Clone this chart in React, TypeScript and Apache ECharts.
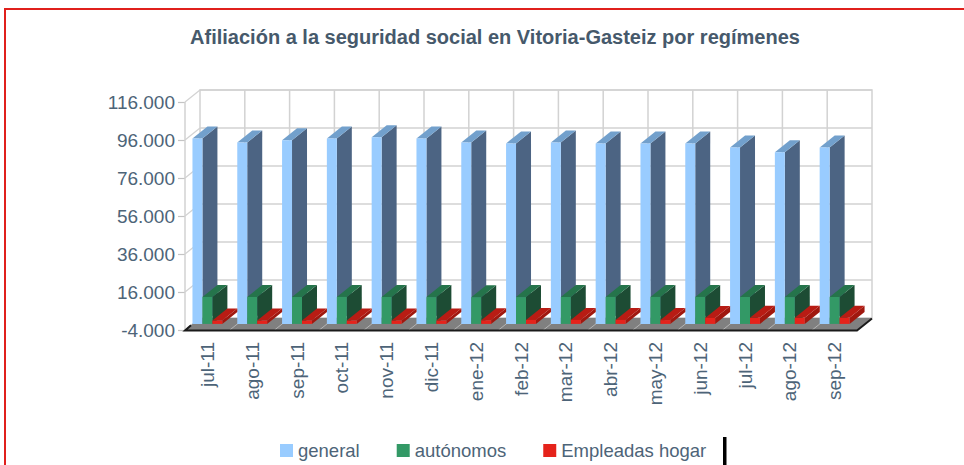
import React, { useEffect, useRef } from 'react';
import * as echarts from 'echarts';

const categories = ['jul-11', 'ago-11', 'sep-11', 'oct-11', 'nov-11', 'dic-11', 'ene-12', 'feb-12', 'mar-12', 'abr-12', 'may-12', 'jun-12', 'jul-12', 'ago-12', 'sep-12'];
const generalValues = [97600, 95500, 96600, 97600, 98200, 97600, 95500, 95000, 95500, 95000, 95000, 95000, 92900, 90300, 92900];
const autonomosValues = [14200, 14150, 14150, 14200, 14150, 14100, 14050, 14100, 14150, 14200, 14200, 14200, 14150, 14100, 14150];
const hogarValues = [1750, 1750, 1750, 1750, 1750, 1750, 1900, 2100, 2100, 2100, 2000, 3150, 3200, 3200, 3250];
const seriesNames = ['general', 'autónomos', 'Empleadas hogar'];
const yTicks = [-4000, 16000, 36000, 56000, 76000, 96000, 116000];
const titleText = 'Afiliación a la seguridad social en Vitoria-Gasteiz por regímenes';

const FACES = [
  { front: '#99ccff', side: '#4c6483', top: '#72a0cc' },
  { front: '#339966', side: '#1d4c34', top: '#25744b' },
  { front: '#e5231b', side: '#a0180f', top: '#b81c14' },
];
const DX = 15;
const DY = -12;
const BAR_SHIFT = 1.5;
const TEXT = '#4d6478';
const FONT = '"Liberation Sans", Arial, sans-serif';

const fmt = (v: number) => {
  const s = Math.abs(v).toString().replace(/\B(?=(\d{3})+(?!\d))/g, '.');
  return (v < 0 ? '-' : '') + s;
};

const makeBarRender = (si: number) => (params: any, api: any) => {
  const idx = api.value(0);
  const v = api.value(1);
  const catW = api.size([1, 0])[0];
  const w = catW / 4.5;
  const base = api.coord([idx, 0]);
  const top = api.coord([idx, v]);
  const x0 = base[0] - catW / 2 + 0.75 * w + si * w;
  const yb = base[1] + BAR_SHIFT;
  const yt = top[1] + BAR_SHIFT;
  const f = FACES[si];
  return {
    type: 'group',
    children: [
      { type: 'polygon', shape: { points: [[x0 + w, yt], [x0 + w + DX, yt + DY], [x0 + w + DX, yb + DY], [x0 + w, yb]] }, style: { fill: f.side } },
      { type: 'polygon', shape: { points: [[x0, yt], [x0 + w, yt], [x0 + w + DX, yt + DY], [x0 + DX, yt + DY]] }, style: { fill: f.top } },
      { type: 'rect', shape: { x: x0, y: yt, width: w, height: yb - yt }, style: { fill: f.front } },
    ],
  };
};

const renderFrame = (params: any, api: any) => {
  const cs = params.coordSys;
  const xL = cs.x;
  const xR = cs.x + cs.width;
  const n = categories.length;
  const catW = cs.width / n;
  const yOf = (v: number) => api.coord([0, v])[1];
  const yTop = yOf(yTicks[yTicks.length - 1]);
  const yBot = yOf(yTicks[0]);
  const grid = '#d2d2d2';
  const children: any[] = [];
  children.push({ type: 'rect', shape: { x: xL + DX, y: yTop + DY, width: cs.width, height: yBot - yTop }, style: { fill: '#ffffff', stroke: grid, lineWidth: 1.5 } });
  for (let k = 1; k < n; k++) {
    const x = xL + DX + k * catW;
    children.push({ type: 'line', shape: { x1: x, y1: yTop + DY, x2: x, y2: yBot + DY }, style: { stroke: grid, lineWidth: 1.5 } });
  }
  yTicks.forEach((t) => {
    const y = yOf(t);
    children.push({ type: 'line', shape: { x1: xL + DX, y1: y + DY, x2: xR + DX, y2: y + DY }, style: { stroke: grid, lineWidth: 1.5 } });
    children.push({ type: 'line', shape: { x1: xL, y1: y, x2: xL + DX, y2: y + DY }, style: { stroke: grid, lineWidth: 1.2 } });
  });
  children.push({ type: 'line', shape: { x1: xL, y1: yTop, x2: xL, y2: yBot }, style: { stroke: grid, lineWidth: 1.5 } });
  // floor
  children.push({ type: 'polygon', shape: { points: [[xL, yBot], [xR, yBot], [xR + DX, yBot + DY], [xL + DX, yBot + DY]] }, style: { fill: '#808080' } });
  for (let k = 1; k < n; k++) {
    const x = xL + k * catW;
    children.push({ type: 'line', shape: { x1: x, y1: yBot, x2: x + DX, y2: yBot + DY }, style: { stroke: '#b4b4b4', lineWidth: 1 } });
  }
  children.push({ type: 'polyline', shape: { points: [[xL + DX * 0.4, yBot + DY * 0.4], [xL, yBot + 0.5], [xR, yBot + 0.5], [xR + DX, yBot + DY + 0.5]] }, style: { stroke: '#1a1a1a', lineWidth: 2, fill: null } });
  return { type: 'group', children };
};

export default function App() {
  const ref = useRef<HTMLDivElement>(null);
  useEffect(() => {
    if (!ref.current) return;
    const chart = echarts.init(ref.current, undefined, { renderer: 'svg' });
    const dataSets = [generalValues, autonomosValues, hogarValues];
    const option: any = {
      animation: false,
      backgroundColor: '#ffffff',
      title: {
        text: titleText,
        left: 490,
        top: 22,
        textAlign: 'center',
        textStyle: { fontFamily: FONT, fontSize: 20, fontWeight: 'bold', color: '#46596b' },
      },
      legend: {
        data: seriesNames,
        left: 275,
        top: 436,
        icon: 'rect',
        itemWidth: 13,
        itemHeight: 13,
        itemGap: 37,
        textStyle: { fontFamily: FONT, fontSize: 18.5, color: TEXT },
      },
      grid: { left: 185, right: 107, top: 102, bottom: 135 },
      xAxis: {
        type: 'category',
        data: categories,
        axisLine: { show: false },
        axisTick: { show: false },
        axisLabel: { rotate: 90, interval: 0, margin: 12, fontFamily: FONT, fontSize: 19, color: TEXT },
      },
      yAxis: {
        type: 'value',
        min: yTicks[0],
        max: yTicks[yTicks.length - 1],
        interval: yTicks[1] - yTicks[0],
        splitLine: { show: false },
        axisLine: { show: false },
        axisTick: { show: true, length: 7, lineStyle: { color: '#c4c4c4', width: 1.2 } },
        axisLabel: { margin: 10, fontFamily: FONT, fontSize: 19, color: TEXT, formatter: (v: number) => fmt(v) },
      },
      graphic: [
        { type: 'rect', silent: true, z: 100, shape: { x: 5, y: 9, width: 1000, height: 500 }, style: { fill: 'none', stroke: '#e0201c', lineWidth: 2 } },
        { type: 'rect', silent: true, z: 100, shape: { x: 723, y: 437, width: 3.5, height: 40 }, style: { fill: '#000000' } },
      ],
      series: [
        {
          type: 'custom',
          name: 'frame',
          z: 1,
          silent: true,
          clip: false,
          renderItem: renderFrame,
          data: [[0, yTicks[0]]],
          encode: { x: 0, y: 1 },
        },
        ...seriesNames.map((name, si) => ({
          type: 'custom',
          name,
          z: 2 + si,
          clip: false,
          itemStyle: { color: FACES[si].front },
          renderItem: makeBarRender(si),
          data: dataSets[si].map((v, i) => [i, v]),
          encode: { x: 0, y: 1 },
        })),
      ],
    };
    chart.setOption(option);
    return () => chart.dispose();
  }, []);
  return <div ref={ref} style={{ position: 'absolute', left: 0, top: 0, width: 964, height: 465 }} />;
}
